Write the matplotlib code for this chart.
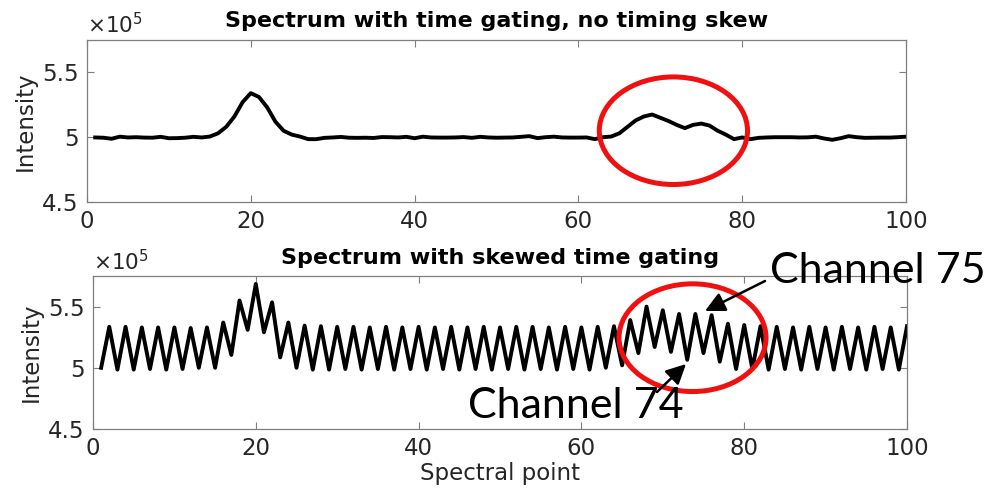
import matplotlib
matplotlib.use("Agg")
import matplotlib.pyplot as plt
from matplotlib.patches import Ellipse, FancyArrowPatch

# spectral point index and intensities (units of 1e5)
x = list(range(1, 101))

gated = [4.998, 4.996, 4.988, 5.004, 4.998, 5.000, 4.997, 4.996, 5.003, 4.992,
         4.993, 4.996, 5.003, 4.998, 5.005, 5.030, 5.080, 5.160, 5.270, 5.340,
         5.310, 5.230, 5.120, 5.050, 5.020, 5.005, 4.985, 4.985, 4.995, 4.998,
         5.002, 4.996, 4.995, 4.996, 4.994, 5.001, 5.000, 4.998, 5.003, 4.992,
         5.004, 4.998, 4.997, 4.997, 4.998, 5.001, 4.995, 5.003, 4.998, 4.996,
         4.997, 4.998, 5.003, 5.008, 4.993, 5.000, 5.004, 4.998, 4.997, 4.997,
         4.998, 4.985, 5.000, 5.005, 5.030, 5.080, 5.130, 5.160, 5.175, 5.150,
         5.125, 5.095, 5.070, 5.095, 5.105, 5.090, 5.050, 5.020, 4.985, 4.998,
         4.985, 4.995, 4.998, 5.000, 5.000, 5.000, 4.998, 4.999, 5.004, 4.990,
         4.980, 4.992, 5.008, 5.000, 4.995, 4.996, 4.997, 4.997, 5.000, 5.004]

skewed = [5.000, 5.335, 4.985, 5.335, 4.985, 5.330, 4.990, 5.330, 4.985, 5.330,
          4.990, 5.325, 5.000, 5.330, 5.000, 5.370, 5.105, 5.550, 5.310, 5.685,
          5.290, 5.535, 5.085, 5.370, 5.000, 5.345, 4.985, 5.340, 4.985, 5.335,
          4.990, 5.335, 4.985, 5.330, 4.990, 5.335, 4.985, 5.330, 4.990, 5.335,
          4.985, 5.330, 4.990, 5.335, 4.985, 5.330, 4.990, 5.335, 4.985, 5.330,
          4.990, 5.335, 4.985, 5.335, 4.990, 5.330, 4.985, 5.335, 4.990, 5.330,
          4.985, 5.335, 5.000, 5.340, 5.020, 5.390, 5.120, 5.500, 5.170, 5.470,
          5.130, 5.440, 5.065, 5.440, 5.120, 5.430, 5.050, 5.360, 4.990, 5.350,
          4.990, 5.340, 4.985, 5.335, 4.990, 5.330, 4.985, 5.335, 4.990, 5.330,
          4.985, 5.335, 4.990, 5.330, 4.985, 5.335, 4.990, 5.330, 4.985, 5.340]

titles = ["Spectrum with time gating, no timing skew",
          "Spectrum with skewed time gating"]
xticks = [0, 20, 40, 60, 80, 100]
yticks = [4.5, 5.0, 5.5]
ytick_labels = ["4.5", "5", "5.5"]

W, H = 1003, 496
fig = plt.figure(figsize=(W / 100, H / 100), dpi=100)
plt.rcParams['font.family'] = 'DejaVu Sans'

def px(l, t, r, b):
    return [l / W, 1 - b / H, (r - l) / W, (b - t) / H]

ax1 = fig.add_axes(px(87, 40, 906, 202))
ax2 = fig.add_axes(px(93, 276, 907, 429))

spine_col = '#7f7f7f'
for ax, y, title in [(ax1, gated, titles[0]), (ax2, skewed, titles[1])]:
    ax.plot(x, y, color='black', lw=2.8)
    ax.set_xlim(0, 100)
    ax.set_ylim(4.5, 5.75)
    ax.set_xticks(xticks)
    ax.set_yticks(yticks)
    ax.set_yticklabels(ytick_labels)
    ax.tick_params(direction='in', top=True, right=True, length=5, width=0.8,
                   color=spine_col, labelsize=16.5, labelcolor='#262626', pad=6)
    for s in ax.spines.values():
        s.set_color(spine_col)
        s.set_linewidth(0.9)
    ax.set_ylabel("Intensity", fontsize=16.5, color='#262626', labelpad=4)
    ax.set_title(title, fontsize=16, fontweight='bold', pad=9)
    ax.text(0.0, 1.015, r"$\times10^5$", transform=ax.transAxes, fontsize=15.5,
            color='#262626', ha='left', va='bottom')

ax2.set_xlabel("Spectral point", fontsize=16.5, color='#262626', labelpad=1)

# red highlight ellipses
ax1.add_patch(Ellipse((71.6, 5.05), 18.1, 0.83, fill=False, ec='#f01010',
                      lw=3.6, clip_on=False, zorder=5))
ax2.add_patch(Ellipse((73.65, 5.246), 18.06, 0.88, fill=False, ec='#f01010',
                      lw=3.6, clip_on=False, zorder=5))

def fpos(xp, yp):
    return (xp / W, 1 - yp / H)

fig.text(*fpos(770, 283), "Channel 75", fontsize=31, family='Lato',
         ha='left', va='baseline')
fig.text(*fpos(468, 418), "Channel 74", fontsize=31, family='Lato',
         ha='left', va='baseline')

for start, end in [((765, 281), (705, 311)), ((657, 392), (686, 364))]:
    fig.patches.append(FancyArrowPatch(
        fpos(*start), fpos(*end), transform=fig.transFigure,
        arrowstyle='-|>,head_length=0.6,head_width=0.3', mutation_scale=20,
        color='black', lw=1.8, shrinkA=0, shrinkB=0))

fig.savefig("out.png", dpi=100)
